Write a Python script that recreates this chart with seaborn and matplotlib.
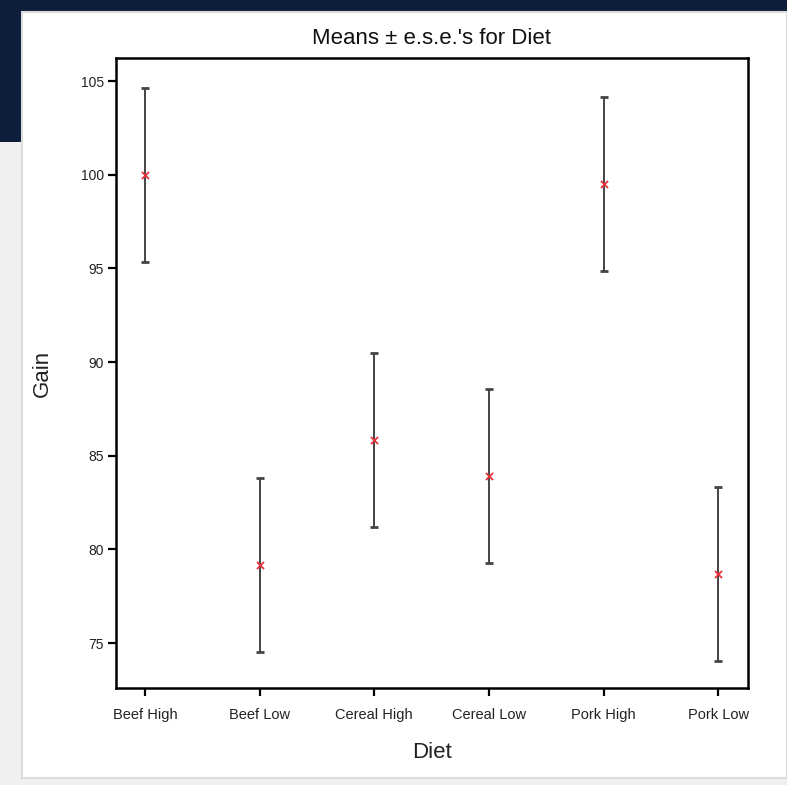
import matplotlib
matplotlib.use("Agg")
import matplotlib.pyplot as plt
from matplotlib.patches import Rectangle
import seaborn as sns
import pandas as pd
import numpy as np

diets = ["Beef High", "Beef Low", "Cereal High", "Cereal Low", "Pork High", "Pork Low"]
means = [100.0, 79.15, 85.85, 83.9, 99.5, 78.7]
ese = [4.65, 4.65, 4.65, 4.65, 4.65, 4.65]
yticks = [75, 80, 85, 90, 95, 100, 105]

df = pd.DataFrame({"Diet": diets, "Gain": means, "ese": ese})

sns.set_theme(style="white")
plt.rcParams["font.family"] = ["Liberation Sans", "DejaVu Sans"]

fig = plt.figure(figsize=(7.87, 7.85), dpi=100)
fig.patch.set_facecolor("#f0f0f0")
# screenshot surroundings
fig.patches.append(Rectangle((0, 1 - 12 / 785), 1, 12 / 785, transform=fig.transFigure,
                             facecolor="#0d1e3a", edgecolor="none", zorder=-5))
fig.patches.append(Rectangle((0, 1 - 142 / 785), 22 / 787, 142 / 785, transform=fig.transFigure,
                             facecolor="#0d1e3a", edgecolor="none", zorder=-5))
fig.patches.append(Rectangle((22 / 787, 7 / 785), 1 - 22 / 787, 1 - 19 / 785, transform=fig.transFigure,
                             facecolor="white", edgecolor="#dcdcdc", lw=1.5, zorder=-5))

ax = fig.add_axes([116 / 787, 97 / 785, 632 / 787, 630 / 785])
ax.set_facecolor("white")

xpos = np.arange(len(diets))
ax.errorbar(xpos, df["Gain"], yerr=df["ese"], fmt="none", ecolor="#444444",
            elinewidth=1.4, capsize=2.6, capthick=2.0, zorder=2)
sns.scatterplot(data=df, x="Diet", y="Gain", marker="x", color="#e8333a", s=26,
                linewidth=1.3, ax=ax, zorder=3)

ax.set_xlim(-0.253, 5.26)
ax.set_ylim(72.6, 106.23)
ax.set_yticks(yticks)
ax.set_yticklabels([str(t) for t in yticks], fontsize=10, color="#222222")
ax.set_xticks(xpos)
ax.set_xticklabels(diets, fontsize=10.5, color="#222222", va="baseline")
ax.tick_params(axis="both", direction="out", length=5.5, width=1.6, color="black",
               bottom=True, left=True)
ax.tick_params(axis="x", pad=17)
ax.tick_params(axis="y", pad=3)
for s in ax.spines.values():
    s.set_visible(True)
    s.set_color("black")
    s.set_linewidth(1.8)

ax.set_title("Means \u00b1 e.s.e.'s for Diet", fontsize=16, color="#111111", pad=10)
ax.set_xlabel("Diet", fontsize=16, color="#222222", labelpad=14)
ax.set_ylabel("Gain", fontsize=16, color="#222222", labelpad=20)

fig.savefig("out.png", dpi=100)
